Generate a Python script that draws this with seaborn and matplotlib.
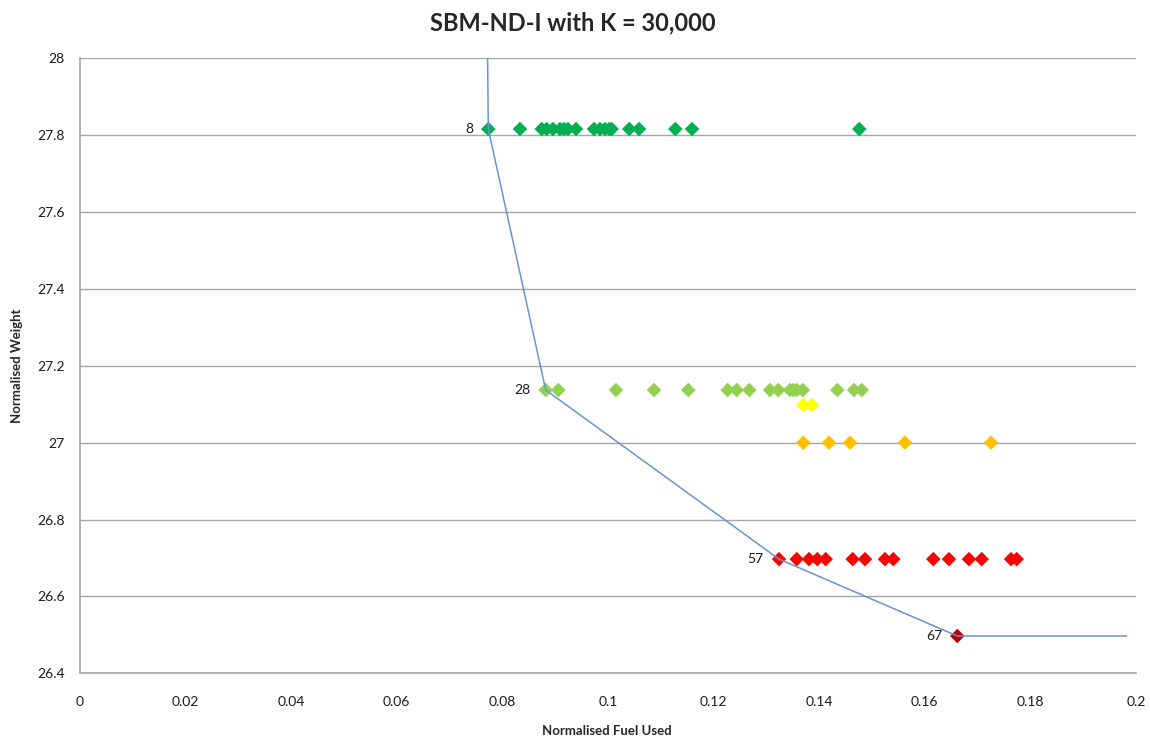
import matplotlib
matplotlib.use("Agg")
import matplotlib.pyplot as plt
import seaborn as sns
import pandas as pd

# ---- data ----
green_x = [0.07733, 0.08333, 0.08744, 0.08839, 0.08958, 0.09091, 0.09167, 0.09242,
           0.09394, 0.09735, 0.09848, 0.09943, 0.10025, 0.10070, 0.10403, 0.10587,
           0.11275, 0.11591, 0.14759]
green_y = 27.816

lightgreen_x = [0.08820, 0.09059, 0.10152, 0.10871, 0.11521, 0.12267, 0.12438, 0.12676,
                0.13068, 0.13225, 0.13447, 0.13509, 0.13574, 0.13688, 0.14343, 0.14659,
                0.14805]
lightgreen_y = 27.137

yellow_x = [0.13699, 0.13858]
yellow_y = 27.098

orange_x = [0.13699, 0.14186, 0.14583, 0.15625, 0.17254]
orange_y = 27.0

red_x = [0.13239, 0.13574, 0.13807, 0.13964, 0.14123, 0.14634, 0.14867, 0.15246,
         0.15403, 0.16161, 0.16458, 0.16837, 0.17078, 0.17633, 0.17740]
red_y = 26.697

darkred_x = [0.16616]
darkred_y = 26.497

frontier_x = [0.07720, 0.07733, 0.08820, 0.13239, 0.16616, 0.19824]
frontier_y = [28.0, 27.816, 27.137, 26.697, 26.497, 26.497]

label_names = ["8", "28", "57", "67"]
label_x = [0.07733, 0.08820, 0.13239, 0.16616]
label_y = [27.816, 27.137, 26.697, 26.497]

x_ticks = [0, 0.02, 0.04, 0.06, 0.08, 0.1, 0.12, 0.14, 0.16, 0.18, 0.2]
x_tick_labels = ["0", "0.02", "0.04", "0.06", "0.08", "0.1", "0.12", "0.14", "0.16", "0.18", "0.2"]
y_ticks = [26.4, 26.6, 26.8, 27.0, 27.2, 27.4, 27.6, 27.8, 28.0]
y_tick_labels = ["26.4", "26.6", "26.8", "27", "27.2", "27.4", "27.6", "27.8", "28"]

groups = [("green", green_x, green_y), ("lightgreen", lightgreen_x, lightgreen_y),
          ("yellow", yellow_x, yellow_y), ("orange", orange_x, orange_y),
          ("red", red_x, red_y), ("darkred", darkred_x, darkred_y)]
palette = {"green": "#00B050", "lightgreen": "#92D050", "yellow": "#FFFF00",
           "orange": "#FFC000", "red": "#FF0000", "darkred": "#C00000"}

rows = []
for name, xs, y in groups:
    for x in xs:
        rows.append({"fuel": x, "weight": y, "grp": name})
df = pd.DataFrame(rows)
front = pd.DataFrame({"fuel": frontier_x, "weight": frontier_y})

# ---- plot ----
sns.set_style("white")
plt.rcParams["font.family"] = ["Lato", "DejaVu Sans"]

fig = plt.figure(figsize=(11.5, 7.4), dpi=100)
ax = fig.add_axes([80 / 1150, 1 - 673.3 / 740, (1136 - 80) / 1150, (673.3 - 58.3) / 740])

for y in y_ticks[1:]:
    ax.axhline(y, color="#A6A6A6", lw=1.0, zorder=0)

sns.scatterplot(data=df, x="fuel", y="weight", hue="grp", palette=palette, marker="D",
                s=55, edgecolor="none", legend=False, ax=ax, zorder=3)
sns.lineplot(data=front, x="fuel", y="weight", sort=False, estimator=None,
             color="#6A93D0", lw=1.1, ax=ax, zorder=4)

for name, x, y in zip(label_names, label_x, label_y):
    ax.annotate(name, (x, y), xytext=(-11, 0), textcoords="offset points",
                ha="right", va="center", fontsize=10, color="#1a1a1a")

ax.set_xlim(0, 0.2)
ax.set_ylim(26.4, 28.0)
ax.set_xticks(x_ticks)
ax.set_xticklabels(x_tick_labels)
ax.set_yticks(y_ticks)
ax.set_yticklabels(y_tick_labels)
ax.tick_params(axis="both", labelsize=10, colors="#1a1a1a", length=5, width=1,
               direction="out", pad=6)
ax.tick_params(axis="x", color="#A6A6A6", pad=11)
ax.tick_params(axis="y", color="#A6A6A6")
for side in ["top", "right"]:
    ax.spines[side].set_visible(False)
for side in ["left", "bottom"]:
    ax.spines[side].set_color("#A6A6A6")
    ax.spines[side].set_linewidth(1.2)

ax.set_xlabel("")
ax.set_ylabel("")
fig.text(607 / 1150, 1 - 731 / 740, "Normalised Fuel Used", fontsize=9.5, fontweight="bold",
         ha="center", va="center")
fig.text(17 / 1150, 1 - 366 / 740, "Normalised Weight", fontsize=9.5, fontweight="bold",
         ha="center", va="center", rotation=90)
fig.suptitle("SBM-ND-I with K = 30,000", fontsize=17, fontweight="bold", x=0.498, y=0.985)

fig.savefig("out.png", dpi=100)
